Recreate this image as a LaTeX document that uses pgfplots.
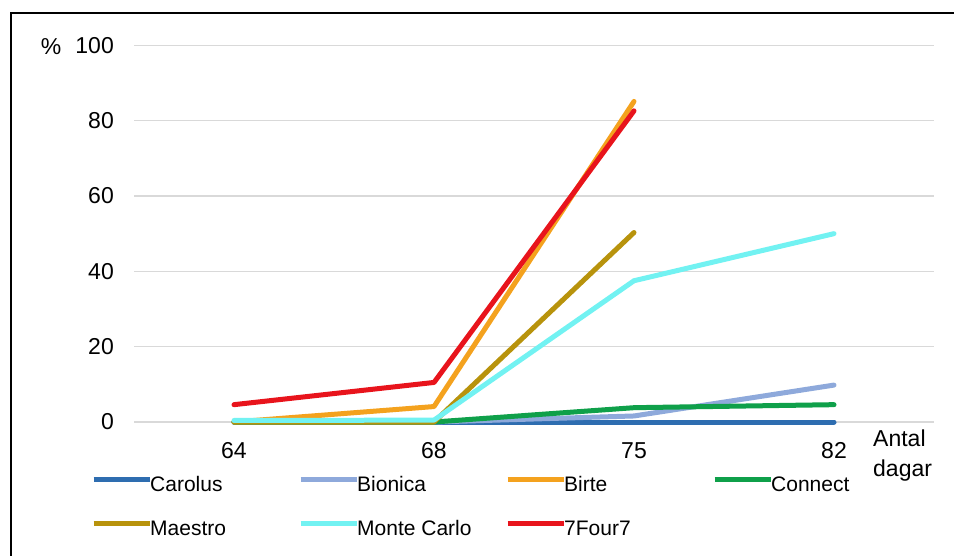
\documentclass[border=0pt]{standalone}
\usepackage{pgfplots}
\pgfplotsset{compat=1.18}
\usepackage{fontspec}
\setmainfont{Liberation Sans}
\definecolor{cCarolus}{HTML}{2E6DB0}
\definecolor{cBionica}{HTML}{8EA9DB}
\definecolor{cBirte}{HTML}{F4A21E}
\definecolor{cConnect}{HTML}{0FA04A}
\definecolor{cMaestro}{HTML}{B8930C}
\definecolor{cMonte}{HTML}{72F2F2}
\definecolor{cRed}{HTML}{E8141C}
\definecolor{gridgrey}{HTML}{D9D9D9}
\newcommand{\lent}[1]{\makebox[146pt][l]{\hspace{-2pt}#1}}
\begin{document}
\begin{tikzpicture}
\useasboundingbox (0,0) rectangle (954pt,555pt);
\draw[line width=2pt] (11pt,-2pt) -- (11pt,542pt) -- (956pt,542pt);
\begin{axis}[
 at={(134pt,133pt)}, anchor=south west,
 scale only axis, width=800pt, height=376.7pt,
 xmin=-0.5, xmax=3.5, ymin=0, ymax=100,
 xtick={0,1,2,3}, xticklabels={64,68,75,82},
 ytick={0,20,...,100},
 ymajorgrids, grid style={gridgrey, line width=1.5pt},
 axis line style={draw=none},
 major tick length=0pt,
 tick label style={font=\fontsize{23}{23}\selectfont, inner sep=0pt},
 /pgf/number format/assume math mode=true,
 yticklabel style={anchor=east, xshift=-20pt},
 xticklabel style={anchor=north, yshift=-20pt},
 clip=false,
 legend columns=4,
 legend cell align=left,
 legend style={at={(axis description cs:-0.05375,-0.1434)}, anchor=north west,
   draw=none, fill=none, inner sep=0pt, column sep=0pt, row sep=24pt,
   font=\fontsize{21}{21}\selectfont,
   nodes={inner xsep=0pt, inner ysep=0pt, text height=15pt, text depth=5pt}},
 legend image code/.code={\draw[#1, line width=5pt, line cap=butt] (0pt,7pt) -- (56pt,7pt);},
 every axis plot/.append style={line width=5pt, line cap=round, line join=round, mark=none},
]
\addplot[cCarolus] coordinates {(0,0) (1,0) (2,0) (3,0)};
\addlegendentry{\lent{Carolus}}
\addplot[cBionica] coordinates {(0,0) (1,0) (2,1.6) (3,9.8)};
\addlegendentry{\lent{Bionica}}
\addplot[cBirte] coordinates {(0,0) (1,4.1) (2,85.1)};
\addlegendentry{\lent{Birte}}
\addplot[cConnect] coordinates {(0,0) (1,0) (2,3.8) (3,4.6)};
\addlegendentry{\lent{Connect}}
\addplot[cMaestro] coordinates {(0,0) (1,0) (2,50.3)};
\addlegendentry{\lent{Maestro}}
\addplot[cMonte] coordinates {(0,0.4) (1,0.5) (2,37.5) (3,50.0)};
\addlegendentry{\lent{Monte Carlo}}
\addplot[cRed] coordinates {(0,4.6) (1,10.5) (2,82.6)};
\addlegendentry{\lent{7Four7}}
\end{axis}
\node[anchor=base, font=\fontsize{23}{23}\selectfont, inner sep=0pt] at (51pt,500pt) {\%};
\node[anchor=base west, font=\fontsize{23}{23}\selectfont, inner sep=0pt] at (873pt,109pt) {Antal};
\node[anchor=base west, font=\fontsize{23}{23}\selectfont, inner sep=0pt] at (873pt,78pt) {dagar};
\end{tikzpicture}
\end{document}
